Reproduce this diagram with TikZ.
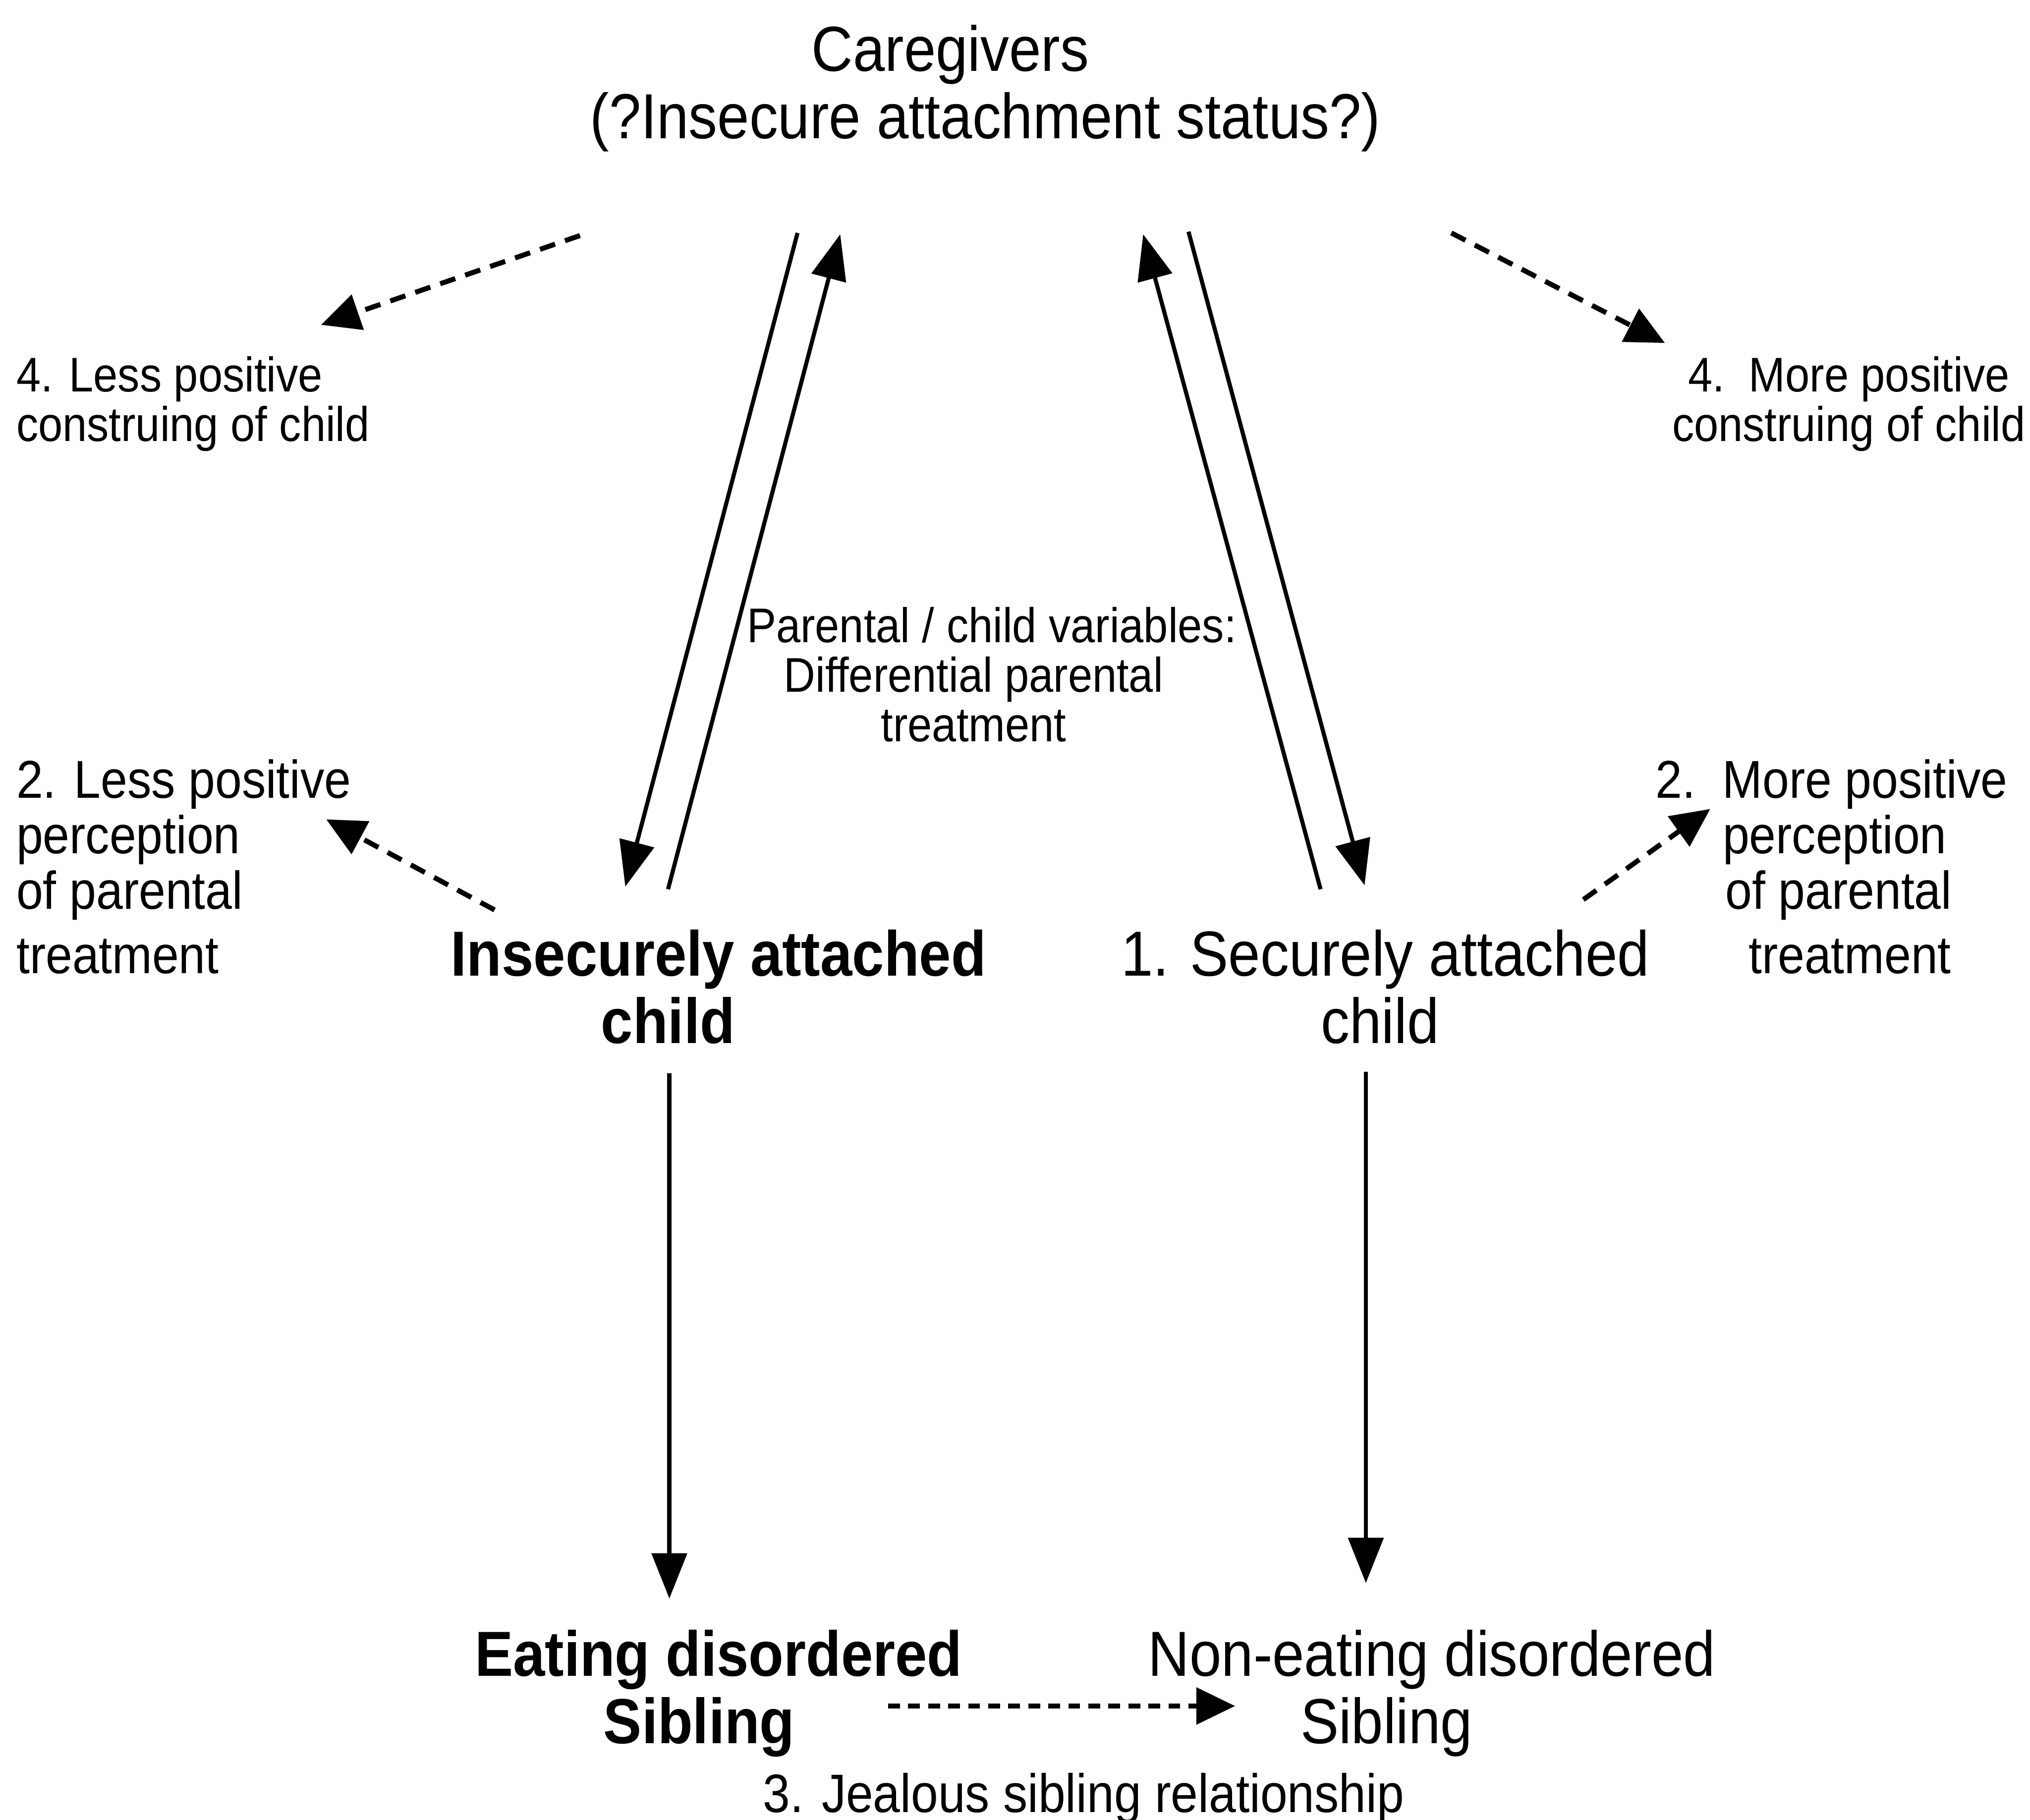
\documentclass[tikz,border=0pt]{standalone}
\usepackage{fontspec}
\setmainfont{Liberation Sans}[FakeStretch=0.9]
\usetikzlibrary{arrows.meta}
\newcommand{\szbig}{\fontsize{14}{14.8}\selectfont}
\newcommand{\szmid}{\fontsize{11.7}{12.2}\selectfont}
\newcommand{\szsmall}{\fontsize{10.7}{10.9}\selectfont}
\newcommand{\szrel}{\fontsize{11.9}{13}\selectfont}
\tikzset{
  lbl/.style={inner sep=0pt, anchor=base, align=center},
  lblw/.style={inner sep=0pt, anchor=base west, align=left},
  arr/.style={-{Triangle[length=3.5mm,width=2.7mm]}, line width=0.9pt},
  darr/.style={-{Triangle[length=3mm,width=2.8mm]}, line width=1.1pt, dash pattern=on 3.5pt off 2.3pt}
}
\begin{document}
\begin{tikzpicture}
\useasboundingbox (0,0) rectangle (15.68,14.06);
\node[lbl,font=\szbig] (cg) at (7.61,12.99) {Caregivers\hspace*{0.54cm}\\(?Insecure attachment status?)};
\node[lbl,font=\szbig\bfseries] (ins) at (5.55,6.00) {Insecurely attached\\child\hspace*{0.78cm}};
\node[lbl,font=\szbig] (sec) at (10.70,6.00) {1. Securely attached\\child\hspace*{0.08cm}};
\node[lbl,font=\szbig\bfseries] (ed) at (5.55,0.59) {Eating disordered\\Sibling\hspace*{0.3cm}};
\node[lbl,font=\szbig] (ned) at (11.06,0.59) {Non-eating disordered\\Sibling\hspace*{0.7cm}};
\node[lbl,font=\szrel] (jeal) at (8.37,0.06) {3. Jealous sibling relationship};
\node[lbl,font=\szsmall] (pcv) at (7.52,8.33) {\hspace*{0.28cm}Parental / child variables:\\Differential parental\\treatment};
\node[lblw,font=\szsmall] (lessc) at (0.12,10.65) {4. Less positive\\construing of child};
\node[lbl,font=\szsmall] (morec) at (14.28,10.65) {4.\ \ More positive\\construing of child};
\node[lblw,font=\szmid] (lessp) at (0.12,6.54) {2. Less positive\\perception\\of parental\\[0.07cm]treatment};
\node[lblw,font=\szmid] (morep) at (12.78,6.54) {2.\hspace{0.21cm}More positive\\\hspace*{0.52cm}perception\\\hspace*{0.54cm}of parental\\[0.07cm]\hspace*{0.72cm}treatment};

\coordinate (cgDnL) at (6.16,12.26);
\coordinate (cgUpL) at (6.49,12.25);
\coordinate (cgUpR) at (8.83,12.25);
\coordinate (cgDnR) at (9.18,12.27);
\coordinate (cgLc) at (4.48,12.24);
\coordinate (cgRc) at (11.21,12.26);
\coordinate (insDn) at (4.83,7.21);
\coordinate (insUp) at (5.16,7.19);
\coordinate (secUp) at (10.20,7.19);
\coordinate (secDn) at (10.54,7.22);
\coordinate (lesscT) at (2.48,11.55);
\coordinate (morecT) at (12.86,11.41);
\coordinate (insP) at (3.82,7.03);
\coordinate (lesspT) at (2.52,7.73);
\coordinate (secP) at (12.23,7.11);
\coordinate (morepT) at (13.21,7.81);
\coordinate (insB) at (5.17,5.77);
\coordinate (edT) at (5.17,1.71);
\coordinate (secB) at (10.55,5.78);
\coordinate (nedT) at (10.55,1.83);
\coordinate (edR) at (6.86,0.88);
\coordinate (nedL) at (9.54,0.88);

\draw[arr] (cgDnL) -- (insDn);
\draw[arr] (insUp) -- (cgUpL);
\draw[arr] (secUp) -- (cgUpR);
\draw[arr] (cgDnR) -- (secDn);
\draw[arr] (insB) -- (edT);
\draw[arr] (secB) -- (nedT);
\draw[darr] (cgLc) -- (lesscT);
\draw[darr] (cgRc) -- (morecT);
\draw[darr] (insP) -- (lesspT);
\draw[darr] (secP) -- (morepT);
\draw[darr,dash pattern=on 2.6pt off 1.8pt] (edR) -- (nedL);
\end{tikzpicture}
\end{document}
